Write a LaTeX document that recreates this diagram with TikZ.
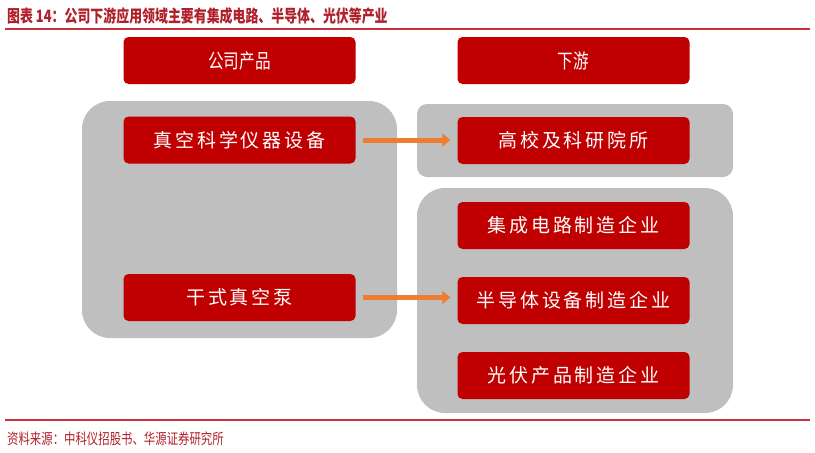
\documentclass[tikz,border=0pt]{standalone}
\usepackage{fontspec}
\newfontfamily\titlefont[FakeStretch=0.76]{Noto Sans CJK SC}
\newfontfamily\headfont[FakeStretch=0.78]{Noto Sans CJK SC}
\newfontfamily\boxfont[LetterSpace=15]{Noto Sans CJK SC}
\usetikzlibrary{calc,arrows.meta}

\definecolor{boxred}{RGB}{192,0,0}
\definecolor{titlered}{RGB}{176,32,42}
\definecolor{rulered}{RGB}{200,48,58}
\definecolor{panelgrey}{RGB}{191,191,191}
\definecolor{arrorange}{RGB}{237,125,49}

\tikzset{
    redbox/.style={fill=boxred, rounded corners=5pt, minimum width=232pt, minimum height=47pt,
        inner sep=0pt, text=white},
    flow/.style={line width=5pt, draw=arrorange, -{Triangle[length=8pt,width=13pt]},
        shorten <=7pt, shorten >=7pt}
}

\begin{document}
\begin{tikzpicture}[x=1pt,y=-1pt]
            \useasboundingbox (0,0) rectangle (815,453);

            % title and rules
            \node (title) at (7,16) [anchor=west, inner sep=0pt, text=titlered]
                {\titlefont\fontsize{17}{17}\bfseries 图表 14：公司下游应用领域主要有集成电路、半导体、光伏等产业};
            \draw [rulered, line width=2pt] (5,29) -- (810,29);
            \draw [rulered, line width=2pt] (5,420) -- (810,420);
            \node (source) at (7,439) [anchor=west, inner sep=0pt, text=titlered]
                {\titlefont\fontsize{15}{15}\selectfont 资料来源：中科仪招股书、华源证券研究所};

            % grey panels
            \fill [panelgrey, rounded corners=28pt] (82,101) rectangle (397,338);
            \fill [panelgrey, rounded corners=10pt] (417,104) rectangle (733,177);
            \fill [panelgrey, rounded corners=28pt] (417,188) rectangle (733,413);

            % column heads
            \node (prod) at (239.5,60.5) [redbox] {\headfont\fontsize{20}{20}\selectfont 公司产品};
            \node (down) at (573.5,60.5) [redbox] {\headfont\fontsize{20}{20}\selectfont 下游};

            % products
            \node (instr) at (239.5,140) [redbox] {\boxfont\fontsize{19}{19}\selectfont 真空科学仪器设备};
            \node (pump) at (239.5,297.5) [redbox] {\boxfont\fontsize{19}{19}\selectfont 干式真空泵};

            % downstream
            \node (univ) at (573.5,140.5) [redbox] {\boxfont\fontsize{19}{19}\selectfont 高校及科研院所};
            \node (ic) at (573.5,225.5) [redbox] {\boxfont\fontsize{19}{19}\selectfont 集成电路制造企业};
            \node (semi) at (573.5,300.5) [redbox] {\boxfont\fontsize{19}{19}\selectfont 半导体设备制造企业};
            \node (pv) at (573.5,375.5) [redbox] {\boxfont\fontsize{19}{19}\selectfont 光伏产品制造企业};

            \draw [flow] (instr.east) -- (instr.east -| univ.west);
            \draw [flow] (pump.east) -- (pump.east -| semi.west);

        \end{tikzpicture}
\end{document}
